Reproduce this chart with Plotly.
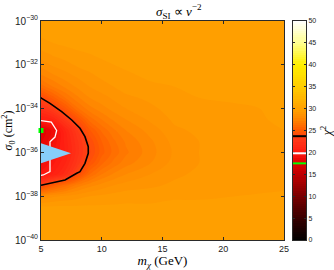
import plotly.graph_objects as go

# ---- data ----
mass_grid = [5, 6, 7, 8, 9, 10, 11, 12, 14, 16, 18, 21, 25]
logsig_grid = [-40, -39, -38.5, -38, -37.5, -37, -36.5, -36, -35.5, -35,
               -34.5, -34, -33.5, -33, -32.5, -32, -31.5, -31, -30]
chi2_grid = [
    [29.8, 29.8, 29.8, 29.8, 29.8, 29.8, 29.8, 29.8, 29.8, 29.8, 29.8, 29.8, 29.8],
    [29.8, 29.8, 29.7, 29.7, 29.7, 29.7, 29.7, 29.7, 29.7, 29.7, 29.7, 29.7, 29.7],
    [29.6, 29.6, 29.6, 29.6, 29.6, 29.6, 29.6, 29.6, 29.6, 29.7, 29.7, 29.7, 29.7],
    [28.0, 28.4, 28.6, 28.8, 29.0, 29.1, 29.2, 29.3, 29.3, 29.4, 29.4, 29.5, 29.6],
    [23.6, 25.2, 26.2, 27.2, 27.8, 28.2, 28.5, 28.7, 28.9, 29.1, 29.2, 29.3, 29.4],
    [19.8, 20.6, 21.8, 24.0, 26.0, 27.0, 27.6, 28.0, 28.5, 28.9, 29.1, 29.2, 29.3],
    [18.8, 19.9, 21.0, 22.7, 24.6, 25.9, 26.7, 27.3, 28.0, 28.7, 29.0, 29.1, 29.2],
    [18.3, 19.5, 20.6, 22.3, 23.9, 25.3, 26.2, 26.9, 27.8, 28.6, 29.0, 29.1, 29.2],
    [17.9, 19.0, 20.7, 22.4, 24.1, 25.5, 26.4, 27.1, 27.9, 28.7, 29.0, 29.1, 29.3],
    [17.5, 18.7, 21.0, 23.0, 24.9, 26.1, 26.9, 27.5, 28.2, 28.9, 29.1, 29.2, 29.5],
    [20.4, 21.0, 22.9, 24.5, 26.2, 27.0, 27.6, 28.0, 28.6, 29.1, 29.2, 29.3, 29.6],
    [22.2, 23.3, 24.8, 26.4, 27.3, 27.8, 28.2, 28.5, 28.9, 29.2, 29.3, 29.4, 29.6],
    [23.8, 25.3, 26.5, 27.4, 28.0, 28.3, 28.6, 28.9, 29.1, 29.3, 29.5, 29.6, 29.7],
    [26.2, 27.0, 27.6, 28.1, 28.5, 28.8, 29.0, 29.2, 29.4, 29.5, 29.6, 29.7, 29.7],
    [27.4, 27.9, 28.3, 28.6, 28.9, 29.1, 29.3, 29.4, 29.6, 29.6, 29.7, 29.7, 29.7],
    [28.2, 28.6, 28.8, 29.1, 29.2, 29.4, 29.5, 29.6, 29.7, 29.7, 29.7, 29.7, 29.7],
    [28.8, 29.1, 29.3, 29.4, 29.5, 29.6, 29.7, 29.7, 29.7, 29.7, 29.7, 29.7, 29.7],
    [29.4, 29.5, 29.6, 29.7, 29.7, 29.7, 29.7, 29.7, 29.7, 29.7, 29.7, 29.7, 29.7],
    [29.8, 29.8, 29.8, 29.8, 29.8, 29.8, 29.8, 29.8, 29.8, 29.8, 29.8, 29.8, 29.8],
]

# 2-sigma (black) contour, traced
black_mass = [5.0, 5.06, 5.74, 6.70, 7.53, 8.21, 8.62, 8.89, 8.89, 8.62, 8.21, 7.94, 6.98, 5.19, 5.0]
black_logsig = [-33.50, -33.53, -33.76, -34.14, -34.52, -34.90, -35.28, -35.74, -36.04,
                -36.50, -36.88, -36.95, -37.26, -37.49, -37.50]
# 1-sigma (white) contour, traced
white_mass = [5.0, 5.3, 5.85, 6.29, 6.15, 5.74, 5.74, 5.74, 5.19, 5.0]
white_logsig = [-34.55, -34.57, -34.62, -35.00, -35.30, -35.51, -36.42, -36.88, -37.03, -37.05]
# light-blue excluded triangle
tri_mass = [5.0, 7.47, 5.0]
tri_logsig = [-35.58, -36.04, -36.50]
# best fit point
best_mass = [5.0]
best_logsig = [-35.0]
chi2_min = 17.5
chi2_levels = [19.8, 23.7]

x_ticks = [5, 10, 15, 20, 25]
y_tick_exp = [-40, -38, -36, -34, -32, -30]
cb_ticks = [0, 5, 10, 15, 20, 25, 30, 35, 40, 45, 50]
cb_vals = [i * 0.5 for i in range(101)]

colorscale = [
    [0.00, "#000000"], [0.10, "#3a0000"], [0.20, "#7a0000"], [0.30, "#c00000"],
    [0.35, "#e00000"], [0.40, "#ff1a10"], [0.46, "#ff3a18"], [0.50, "#ff5a00"],
    [0.56, "#ff8c00"], [0.60, "#ffa200"], [0.70, "#ffcc00"], [0.80, "#fff000"],
    [0.90, "#ffff90"], [1.00, "#ffffff"],
]

frame = "#2a2a2a"
serif = "Liberation Serif"
sans = "Liberation Sans"

fig = go.Figure()
fig.add_trace(go.Contour(
    x=mass_grid, y=[10 ** v for v in logsig_grid], z=chi2_grid,
    colorscale=colorscale, zmin=0, zmax=50,
    contours=dict(start=0, end=50, size=0.5, coloring="fill", showlines=False),
    line=dict(width=0), showscale=False, xaxis="x", yaxis="y",
))
fig.add_trace(go.Scatter(
    x=black_mass, y=[10 ** v for v in black_logsig], mode="lines",
    line=dict(color="black", width=1.6), showlegend=False))
fig.add_trace(go.Scatter(
    x=white_mass, y=[10 ** v for v in white_logsig], mode="lines",
    line=dict(color="white", width=1.3), showlegend=False))
fig.add_trace(go.Scatter(
    x=tri_mass, y=[10 ** v for v in tri_logsig], mode="lines", fill="toself",
    fillcolor="#87cefa", line=dict(width=0, color="#87cefa"), showlegend=False))
fig.add_trace(go.Scatter(
    x=best_mass, y=[10 ** v for v in best_logsig], mode="markers",
    marker=dict(symbol="square", size=5, color="#00ff00", line=dict(width=0)),
    cliponaxis=False, showlegend=False))

# colour bar drawn as a heatmap on its own axes
fig.add_trace(go.Heatmap(
    x=[0], y=cb_vals, z=[[v] for v in cb_vals], colorscale=colorscale,
    zmin=0, zmax=50, showscale=False, xaxis="x2", yaxis="y2"))

for lev, col in [(chi2_min, "#00ff00"), (chi2_levels[0], "white"), (chi2_levels[1], "black")]:
    fig.add_shape(type="line", xref="x2 domain", yref="y2", x0=0, x1=1,
                  y0=lev, y1=lev, line=dict(color=col, width=2))

fig.update_layout(
    width=334, height=270,
    margin=dict(l=41, r=28, t=21, b=30),
    paper_bgcolor="white", plot_bgcolor="white",
    showlegend=False,
    title=dict(text="<i>σ</i><sub>SI</sub> ∝ <i>v</i><sup>−2</sup>",
               x=0.52, xref="paper", xanchor="center", y=0.975, yref="container",
               yanchor="top",
               font=dict(family=serif, size=13, color="black")),
    xaxis=dict(domain=[0, 0.917], range=[5, 25], tickvals=x_ticks,
               ticks="inside", ticklen=3, tickcolor=frame, showline=True, linecolor=frame,
               mirror="allticks", showgrid=False, zeroline=False,
               tickfont=dict(family=sans, size=9, color="#222"),
               title=dict(text="<i>m</i><sub><i>χ</i></sub> (GeV)", standoff=3,
                          font=dict(family=serif, size=13, color="black")),
               automargin=False),
    yaxis=dict(type="log", range=[-40, -30], tickvals=[10 ** e for e in y_tick_exp],
               ticktext=["10<sup>−%d</sup>" % (-e) for e in y_tick_exp],
               ticks="inside", ticklen=3, tickcolor=frame, showline=True, linecolor=frame,
               mirror="allticks", showgrid=False, zeroline=False,
               tickfont=dict(family=sans, size=10, color="#222"),
               title=dict(text="<i>σ</i><sub>0</sub> (cm<sup>2</sup>)", standoff=2,
                          font=dict(family=serif, size=12, color="black")),
               automargin=False),
    xaxis2=dict(domain=[0.951, 1.0], range=[-0.5, 0.5], showticklabels=False,
                ticks="", showline=True, linecolor=frame, mirror=True,
                showgrid=False, zeroline=False, anchor="y2"),
    yaxis2=dict(domain=[0, 1], range=[0, 50], side="right", anchor="x2",
                tickvals=cb_ticks, ticks="inside", ticklen=2, tickcolor=frame,
                showline=True, linecolor=frame, mirror="ticks", showgrid=False,
                zeroline=False, tickfont=dict(family=sans, size=7, color="#222"),
                title=dict(text="<i>χ</i><sup>2</sup>", standoff=8,
                           font=dict(family=serif, size=12, color="black")),
                automargin=False),
)

fig.write_html("out.html", config={"displayModeBar": False},
               post_script="document.body.style.margin='0';")
